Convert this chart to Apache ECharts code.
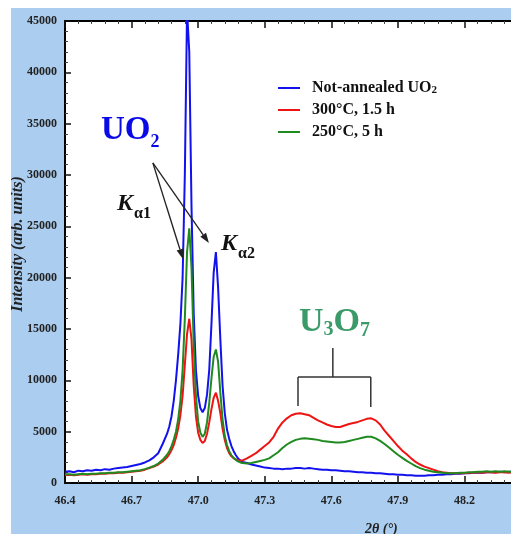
<!DOCTYPE html>
<html><head><meta charset="utf-8">
<script src="https://cdn.jsdelivr.net/npm/echarts@6/dist/echarts.min.js"></script>
<style>
html,body{margin:0;padding:0;background:#fff;width:511px;height:534px;overflow:hidden}
#c{position:absolute;left:11px;top:8px;width:540px;height:526px;}
</style>
</head><body><div id="c"></div>
<script>
// ---- data ----
const theta = [
 46.40,46.42,46.44,46.46,46.48,46.50,46.52,46.54,46.56,46.58,46.60,46.62,46.64,46.66,46.68,46.70,46.72,46.74,46.76,46.78,46.80,46.82,46.84,46.86,
 46.87,46.88,46.89,46.90,46.91,46.92,46.93,46.94,46.95,46.96,46.97,46.98,46.99,47.00,47.01,47.02,47.03,47.04,47.05,47.06,47.07,47.08,47.09,47.10,47.11,47.12,47.13,47.14,47.15,47.16,47.17,47.18,47.19,47.20,
 47.22,47.24,47.26,47.28,47.30,47.32,47.34,47.36,47.38,47.40,47.42,47.44,47.46,47.48,47.50,47.52,47.54,47.56,47.58,47.60,
 47.62,47.64,47.66,47.68,47.70,47.72,47.74,47.76,47.78,47.80,47.82,47.84,47.86,47.88,47.90,47.92,47.94,47.96,47.98,48.00,
 48.02,48.04,48.06,48.08,48.10,48.12,48.14,48.16,48.18,48.20,48.22,48.24,48.26,48.28,48.30,48.32,48.34,48.36,48.38,48.40,
 48.42,48.44,48.46,48.48,48.50
];
const notAnnealed = [
 1100,1150,1050,1200,1150,1250,1200,1300,1250,1350,1300,1400,1450,1500,1550,1650,1750,1850,2000,2200,2500,2900,3800,4800,
 5500,6500,8000,10000,12500,15500,20000,30000,46000,42000,27000,16500,11000,8500,7300,6900,7300,8600,11000,15500,20500,22500,19000,14000,9500,6800,5200,4300,3600,3100,2700,2400,2200,2050,
 1950,1800,1700,1600,1500,1450,1400,1400,1350,1400,1400,1450,1450,1400,1450,1400,1350,1300,1300,1250,
 1250,1200,1150,1150,1100,1050,1050,1000,1000,950,950,900,850,850,800,800,750,750,700,700,
 700,750,750,800,800,850,850,900,900,950,950,1000,1000,1000,1050,1050,1050,1100,1050,1100,
 1100,1100,1100,1100,1100
];
const annealed300 = [
 750,800,750,800,850,800,850,850,900,900,950,950,1000,1000,1050,1100,1150,1200,1300,1450,1600,1800,2100,2500,
 2800,3200,3700,4400,5300,6600,8500,11500,14500,16000,14000,9500,6500,4900,4200,3900,4100,4800,5900,7200,8300,8800,8000,6800,5300,4200,3400,2900,2600,2400,2300,2200,2200,2200,
 2400,2650,2900,3250,3600,3950,4500,5300,5900,6300,6600,6750,6800,6700,6600,6350,6100,5900,5700,5550,
 5450,5450,5600,5750,5850,5950,6100,6250,6300,6100,5700,5100,4600,4100,3600,3150,2800,2400,2050,1800,
 1600,1450,1300,1150,1050,1000,950,950,950,950,1000,1000,1050,1000,1050,1050,1000,1050,1050,1000,
 1050,1050,1000,1050,1050
];
const annealed250 = [
 850,850,800,850,900,850,900,900,950,950,1000,1000,1050,1050,1100,1150,1200,1250,1350,1500,1650,1900,2250,2750,
 3100,3600,4200,5000,6200,8000,11000,16000,22500,24800,21000,13500,8500,6000,4900,4500,4800,5900,7800,10200,12300,13000,11800,8800,6200,4600,3700,3100,2700,2450,2250,2100,2000,1950,
 1900,1950,2050,2150,2250,2400,2700,3000,3400,3750,4000,4200,4300,4350,4300,4250,4200,4100,4050,4000,
 3950,3950,4000,4100,4200,4300,4400,4500,4500,4350,4100,3800,3450,3100,2750,2450,2150,1900,1650,1450,
 1300,1200,1100,1050,1000,950,950,950,1000,1000,1050,1050,1100,1100,1150,1100,1150,1100,1150,1100,
 1100,1050,1100,1050,1100
];
const seriesNames = ['Not-annealed UO2', '300°C, 1.5 h', '250°C, 5 h'];
const xMin = 46.4, xMax = 48.5, xStep = 0.3;
const yMin = 0, yMax = 45000, yStep = 5000;

// ---- style ----
const FONT = '"Liberation Serif","Times New Roman",serif';
const colors = ['#1212ee', '#ee1414', '#1f8a1f'];
const values = [notAnnealed, annealed300, annealed250];

const chart = echarts.init(document.getElementById('c'), null, {renderer: 'canvas'});

function xAxisCfg(pos, showLabel) {
  return {
    type: 'value', position: pos, min: xMin, max: xMax, interval: xStep,
    axisLine: {show: true, onZero: false, lineStyle: {color: '#000', width: 2}},
    axisTick: {show: true, inside: true, length: 7, lineStyle: {color: '#111', width: 1.5}},
    minorTick: {show: true, splitNumber: 5, length: 3, lineStyle: {color: '#444', width: 1}},
    splitLine: {show: false},
    axisLabel: {show: showLabel, margin: 12, fontFamily: FONT, fontWeight: 'bold', fontSize: 12, color: '#222',
      formatter: v => v.toFixed(1)}
  };
}

const option = {
  animation: false,
  backgroundColor: '#aacdf0',
  grid: {left: 54, top: 13, right: 20, bottom: 51, show: true, backgroundColor: '#fff', borderWidth: 0,
    containLabel: false, outerBoundsMode: 'none'},
  xAxis: [xAxisCfg('bottom', true), xAxisCfg('top', false)],
  yAxis: {
    type: 'value', min: yMin, max: yMax, interval: yStep,
    axisLine: {show: true, lineStyle: {color: '#000', width: 2}},
    axisTick: {show: true, inside: true, length: 6, lineStyle: {color: '#111', width: 1.5}},
    minorTick: {show: true, splitNumber: 5, length: 3, lineStyle: {color: '#444', width: 1}},
    splitLine: {show: false},
    axisLabel: {margin: 8, fontFamily: FONT, fontWeight: 'bold', fontSize: 12, color: '#222', formatter: v => String(v)},
    name: 'Intensity (arb. units)', nameLocation: 'middle', nameRotate: 90, nameGap: 39, nameMoveOverlap: false,
    nameTextStyle: {fontFamily: FONT, fontWeight: 'bold', fontStyle: 'italic', fontSize: 16, color: '#222', padding: [0, 0, 0, 16]}
  },
  legend: {
    orient: 'vertical', left: 262, top: 65, itemWidth: 22, itemHeight: 2, itemGap: 6, icon: 'rect',
    data: seriesNames,
    formatter: n => n.replace('UO2', 'UO{s|2}'),
    textStyle: {fontFamily: FONT, fontWeight: 'bold', fontSize: 16, color: '#111', lineHeight: 16, padding: [0, 0, 0, 7],
      rich: {s: {fontFamily: FONT, fontWeight: 'bold', fontSize: 11, color: '#111', verticalAlign: 'bottom', lineHeight: 16, padding: [7, 0, 0, 0]}}}
  },
  series: seriesNames.map((n, i) => ({
    name: n, type: 'line', xAxisIndex: 0, yAxisIndex: 0, showSymbol: false, symbol: 'none',
    clip: true, color: colors[i], lineStyle: {color: colors[i], width: 2},
    data: theta.map((t, k) => [t, values[i][k]])
  }))
};
chart.setOption(option);

// ---- annotations (anchored in data coordinates) ----
const P = (x, y) => chart.convertToPixel({xAxisIndex: 0, yAxisIndex: 0}, [x, y]);
const OX = 11, OY = 8;
const mctx = document.createElement('canvas').getContext('2d');
function textW(t, size, style) {
  mctx.font = (style || '') + ' bold ' + size + 'px ' + FONT;
  return mctx.measureText(t).width;
}
function txt(text, x, y, size, color, opts) {
  return {type: 'text', z: 100, style: Object.assign({text, x: x - OX, y: y - OY, fill: color,
    fontFamily: FONT, fontWeight: 'bold', fontSize: size, align: 'left', verticalAlign: 'middle'}, opts || {})};
}
function seg(a, b, color, w) {
  return {type: 'line', z: 100, shape: {x1: a[0], y1: a[1], x2: b[0], y2: b[1]}, style: {stroke: color, lineWidth: w}};
}
function arrow(a, b) {
  const dx = b[0] - a[0], dy = b[1] - a[1], L = Math.hypot(dx, dy), ux = dx / L, uy = dy / L;
  const hl = 10, hw = 3.5;
  const base = [b[0] - ux * hl, b[1] - uy * hl];
  return [seg(a, base, '#222', 1.3),
    {type: 'polygon', z: 100, shape: {points: [b, [base[0] - uy * hw, base[1] + ux * hw], [base[0] + uy * hw, base[1] - ux * hw]]}, style: {fill: '#222'}}];
}
const arrowStart = P(46.796, 31170);
const bracketStem = [P(47.607, 13150), P(47.607, 10320)];
const bracketBar = [P(47.45, 10320), P(47.778, 10320)];
const legL = [P(47.45, 10320), P(47.45, 7500)];
const legR = [P(47.778, 10320), P(47.778, 7400)];
const blueT = '#0a0ae6', greenT = '#3a9a68';
const kW = textW('K', 24, 'italic');
const uoW = textW('UO', 33);
const uW = textW('U', 34), oW = textW('O', 34), threeW = textW('3', 20);
const graphics = [
  txt('UO', 101, 130, 33, blueT),
  txt('2', 101 + uoW, 142, 18, blueT),
  txt('K', 117, 204, 24, '#111', {fontStyle: 'italic'}),
  txt('α1', 117 + kW + 1, 214, 16, '#111'),
  txt('K', 221, 244, 24, '#111', {fontStyle: 'italic'}),
  txt('α2', 221 + kW + 1, 254, 16, '#111'),
  txt('U', 299, 322, 34, greenT),
  txt('3', 299 + uW, 330, 20, greenT),
  txt('O', 299 + uW + threeW, 322, 34, greenT),
  txt('7', 299 + uW + threeW + oW, 331, 20, greenT),
  txt('2θ (°)', 365, 529, 14, '#222', {fontStyle: 'italic'}),
  ...arrow(arrowStart, P(46.9315, 21820)),
  ...arrow(arrowStart, P(47.0486, 23380)),
  seg(bracketStem[0], bracketStem[1], '#333', 1.5),
  seg(bracketBar[0], bracketBar[1], '#333', 1.5),
  seg(legL[0], legL[1], '#333', 1.5),
  seg(legR[0], legR[1], '#333', 1.5)
];
chart.setOption({graphic: graphics});
</script>
</body></html>
